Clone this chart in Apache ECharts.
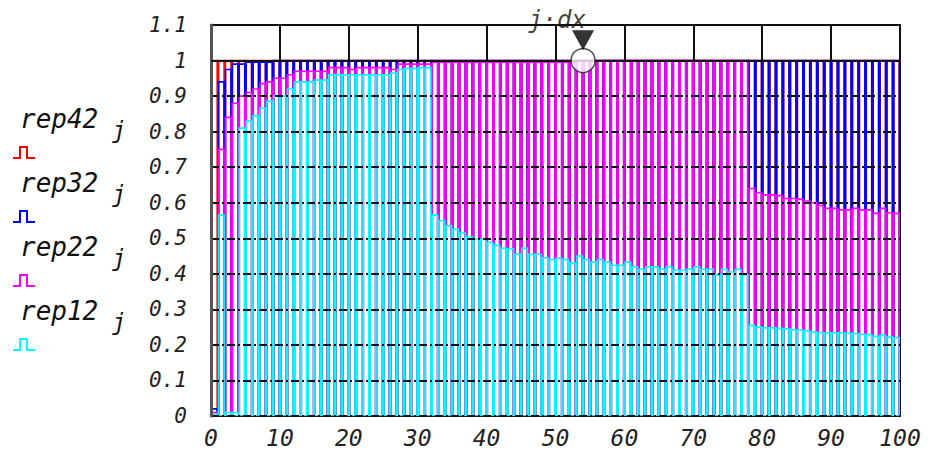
<!DOCTYPE html>
<html><head><meta charset="utf-8">
<script src="https://cdn.jsdelivr.net/npm/echarts@6/dist/echarts.min.js"></script>
<style>html,body{margin:0;padding:0;background:#fff}#c{width:941px;height:449px}</style>
</head><body><div id="c"></div>
<script>
// ---- data ----
const seriesNames = ['rep42', 'rep32', 'rep22', 'rep12'];
const rep42 = [
 1,1,1,1,1,1,1,1,1,1, 1,1,1,1,1,1,1,1,1,1, 1,1,1,1,1,1,1,1,1,1, 1,1,1,1,1,1,1,1,1,1, 1,1,1,1,1,1,1,1,1,1,
 1,1,1,1,1,1,1,1,1,1, 1,1,1,1,1,1,1,1,1,1, 1,1,1,1,1,1,1,1,1,1, 1,1,1,1,1,1,1,1,1,1, 1,1,1,1,1,1,1,1,1,1];
const rep32 = [
 0.02,0.94,0.975,0.99,0.99,0.995,0.995,0.995,0.995,1,
 1,1,1,1,1,1,1,1,1,1, 1,1,1,1,1,1,1,1,1,1, 1,1,1,1,1,1,1,1,1,1, 1,1,1,1,1,1,1,1,1,1,
 1,1,1,1,1,1,1,1,1,1, 1,1,1,1,1,1,1,1,1,1, 1,1,1,1,1,1,1,1,1,1, 1,1,1,1,1,1,1,1,1,1, 1,1,1,1,1,1,1,1,1,1];
const rep22 = [
 0.01,0.75,0.84,0.88,0.90,0.91,0.92,0.935,0.94,0.95,
 0.95,0.96,0.97,0.97,0.97,0.97,0.97,0.98,0.98,0.98,
 0.975,0.98,0.98,0.98,0.98,0.98,0.975,0.99,0.99,0.99,
 0.99,0.99,0.995,0.995,0.995,0.995,0.995,0.995,0.995,0.995,
 0.995,0.995,0.995,0.995,0.995,0.995,0.995,0.995,0.995,0.995,
 0.995,0.995,0.995,1,1,1,1,1,1,1,
 1,1,1,1,1,1,1,1,1,1,
 1,1,1,1,1,1,1,1,0.64,0.628,
 0.622,0.622,0.62,0.612,0.612,0.61,0.605,0.6,0.592,0.584,
 0.584,0.58,0.58,0.584,0.58,0.58,0.57,0.584,0.572,0.57];
const rep12 = [
 0.005,0.565,0.01,0.01,0.81,0.83,0.845,0.866,0.885,0.9,
 0.9,0.92,0.94,0.94,0.94,0.945,0.945,0.96,0.96,0.96,
 0.96,0.96,0.96,0.96,0.96,0.96,0.965,0.975,0.978,0.978,
 0.98,0.98,0.565,0.55,0.535,0.525,0.515,0.505,0.497,0.497,
 0.488,0.48,0.472,0.47,0.455,0.472,0.455,0.455,0.445,0.44,
 0.444,0.44,0.43,0.45,0.44,0.433,0.44,0.433,0.424,0.424,
 0.433,0.42,0.413,0.42,0.42,0.413,0.42,0.41,0.41,0.413,
 0.42,0.413,0.413,0.397,0.413,0.405,0.413,0.397,0.255,0.25,
 0.248,0.248,0.247,0.245,0.243,0.242,0.24,0.236,0.235,0.234,
 0.234,0.234,0.233,0.232,0.23,0.229,0.224,0.228,0.222,0.22];
const xTickLabels = ['0','10','20','30','40','50','60','70','80','90','100'];
const yTickLabels = ['0','0.1','0.2','0.3','0.4','0.5','0.6','0.7','0.8','0.9','1','1.1'];
const markerX = 54;      // j·dx marker position
const markerY = 1;
const markerLabel = 'j·dx';

// ---- style ----
const colors = ['#ff0000', '#0000ff', '#ff00ff', '#00ffff'];
const FONT = 'DejaVu Sans Mono';
const BAR_INSET = 0.1;

const chart = echarts.init(document.getElementById('c'), null, {renderer: 'svg'});

function barSeries(name, values, color) {
  return {
    type: 'custom', name: name, z: 2, clip: true,
    data: values.map((v, j) => [j, v]),
    encode: {x: 0, y: 1},
    renderItem: function (params, api) {
      const j = api.value(0), v = api.value(1);
      const p0 = api.coord([j + BAR_INSET, 0]);
      const p1 = api.coord([j + 1 - BAR_INSET, v]);
      return {
        type: 'rect',
        shape: {x: p0[0], y: p1[1], width: p1[0] - p0[0], height: p0[1] - p1[1]},
        style: {fill: 'none', stroke: color, lineWidth: 1.6}
      };
    }
  };
}

const allValues = [rep42, rep32, rep22, rep12];
const xTickVals = xTickLabels.map(Number);
const yMax = Number(yTickLabels[yTickLabels.length - 1]);

const topSegs = xTickVals.slice(1, -1).map(x => [{coord: [x, markerY]}, {coord: [x, yMax]}]);
topSegs.push([{coord: [0, 1]}, {coord: [100, 1]}]);

const series = seriesNames.map((n, i) => barSeries(n, allValues[i], colors[i]));
series.push({
  type: 'line', data: [], z: 4, silent: true,
  markLine: {silent: true, symbol: ['none', 'none'], label: {show: false},
    lineStyle: {color: '#111', width: 2, type: 'solid'}, data: topSegs}
});
series.push({
  type: 'scatter', z: 10, silent: true,
  data: [[markerX, markerY]], symbol: 'circle', symbolSize: 24,
  itemStyle: {color: '#fff', borderColor: '#222', borderWidth: 1.5}
});
series.push({
  type: 'scatter', z: 11, silent: true,
  data: [[markerX, 1.057]], symbol: 'triangle', symbolRotate: 180, symbolSize: [22, 20],
  itemStyle: {color: '#000'},
  label: {show: true, position: 'top', distance: -2, offset: [-26, 0], formatter: markerLabel,
    fontFamily: FONT, fontStyle: 'italic', fontSize: 24, color: '#111'}
});

// legend drawn as graphic (text above a small bar icon)
const legendGraphics = [];
seriesNames.forEach((n, i) => {
  const top = 106 + i * 64;
  legendGraphics.push({type: 'text', left: 20, top: top,
    style: {text: n, font: 'italic 26px "' + FONT + '"', fill: '#111'}});
  legendGraphics.push({type: 'text', left: 112, top: top + 12,
    style: {text: 'j', font: 'italic 23px "' + FONT + '"', fill: '#111'}});
  const b = top + 52;
  legendGraphics.push({type: 'polyline', shape: {points: [[13, b], [20, b], [20, b - 11], [27, b - 11], [27, b], [35, b]]},
    style: {stroke: colors[i], lineWidth: 2, fill: 'none'}});
});

chart.setOption({
  animation: false,
  backgroundColor: '#fff',
  grid: {left: 211, right: 41, top: 25, bottom: 32, show: true, borderColor: '#111', borderWidth: 2, backgroundColor: 'transparent'},
  xAxis: {
    type: 'value', min: 0, max: 100, interval: 10,
    axisLine: {show: true, lineStyle: {color: '#222', width: 2}},
    axisTick: {show: true, inside: true, length: 5, lineStyle: {color: '#222', width: 1.5}},
    splitLine: {show: false},
    axisLabel: {fontFamily: FONT, fontStyle: 'italic', fontSize: 23, color: '#222', margin: 10,
      formatter: v => xTickLabels[Math.round(v / 10)]}
  },
  yAxis: {
    type: 'value', min: 0, max: yMax, interval: 0.1, z: 3,
    axisLine: {show: true, lineStyle: {color: '#555', width: 3}},
    axisTick: {show: false},
    splitLine: {show: true, lineStyle: {color: '#111', width: 2, type: [8, 3, 2, 3]}},
    axisLabel: {fontFamily: FONT, fontStyle: 'italic', fontSize: 21, color: '#222', margin: 24,
      formatter: v => yTickLabels[Math.round(v * 10)]}
  },
  graphic: legendGraphics,
  series: series
});
</script></body></html>
